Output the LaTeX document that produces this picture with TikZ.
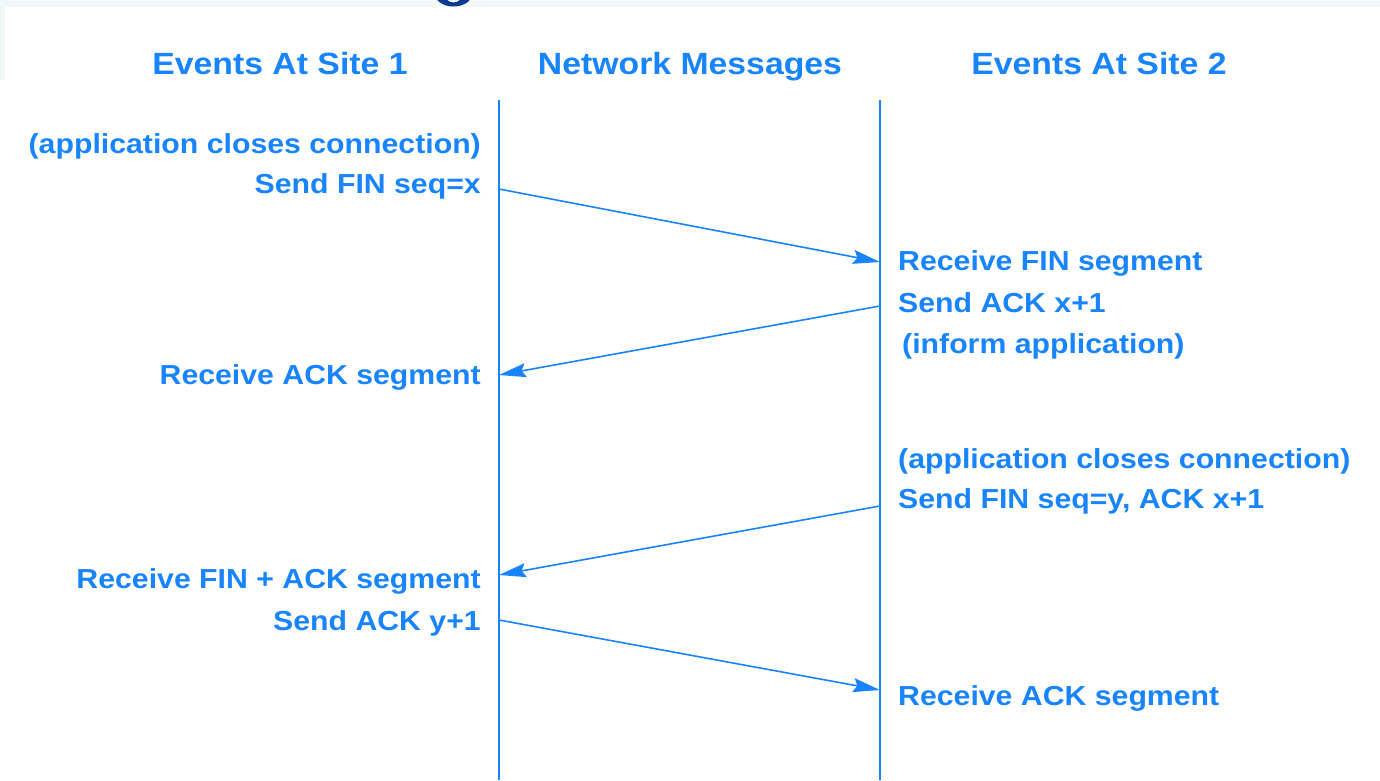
\documentclass[tikz,border=0pt]{standalone}
\usepackage{fontspec}
\usepackage{graphicx}
\setmainfont{Liberation Sans}
\usetikzlibrary{arrows.meta}
\definecolor{tblue}{RGB}{24,132,255}
\definecolor{band}{RGB}{242,247,248}
\definecolor{navy}{RGB}{10,58,145}
\newcommand{\wtxt}[1]{\scalebox{1.1}[1]{#1}}
\tikzset{
  lbl/.style={inner sep=0pt, text=tblue, font=\fontsize{27.5}{33}\selectfont\bfseries},
  hdr/.style={inner sep=0pt, text=tblue, font=\fontsize{30.7}{36}\selectfont\bfseries, anchor=base},
  lifeline/.style={draw=tblue, line width=1.8pt},
  msg/.style={draw=tblue, line width=1.6pt, -{Stealth[length=27pt,width=14pt,inset=4pt]}},
}
\begin{document}
\begin{tikzpicture}[x=1pt,y=-1pt]
\useasboundingbox (0,0) rectangle (1380,780);
% top band and decorations
\fill[band] (0,0) rectangle (1380,7);
\fill[band] (0,7) rectangle (5,80);
\begin{scope}
  \clip (430,0) rectangle (480,7);
  \fill[navy, even odd rule] (453.5,-6) ellipse [x radius=18.5, y radius=12.5]
                             (453.5,-6) ellipse [x radius=9, y radius=8.5];
\end{scope}
% headers
\node[hdr] (h1) at (280,74) {\wtxt{Events At Site 1}};
\node[hdr] (h2) at (690,74) {\wtxt{Network Messages}};
\node[hdr] (h3) at (1099,74) {\wtxt{Events At Site 2}};
% lifelines
\coordinate (l1top) at (499,100);
\coordinate (l1bot) at (499,780);
\coordinate (l2top) at (880,100);
\coordinate (l2bot) at (880,780);
\draw[lifeline] (l1top) -- (l1bot);
\draw[lifeline] (l2top) -- (l2bot);
% site 1 texts
\node[lbl, anchor=base east] (a1) at (481,153) {\wtxt{(application closes connection)}};
\node[lbl, anchor=base east] (a2) at (481,193) {\wtxt{Send FIN seq=x}};
\node[lbl, anchor=base east] (a3) at (481,384) {\wtxt{Receive ACK segment}};
\node[lbl, anchor=base east] (a4) at (481,588) {\wtxt{Receive FIN + ACK segment}};
\node[lbl, anchor=base east] (a5) at (481,630) {\wtxt{Send ACK y+1}};
% site 2 texts
\node[lbl, anchor=base west] (b1) at (898,270) {\wtxt{Receive FIN segment}};
\node[lbl, anchor=base west] (b2) at (898,312) {\wtxt{Send ACK x+1}};
\node[lbl, anchor=base west] (b3) at (902,353) {\wtxt{(inform application)}};
\node[lbl, anchor=base west] (b4) at (898,468) {\wtxt{(application closes connection)}};
\node[lbl, anchor=base west] (b5) at (898,508) {\wtxt{Send FIN seq=y, ACK x+1}};
\node[lbl, anchor=base west] (b6) at (898,705) {\wtxt{Receive ACK segment}};
% message endpoints on lifelines
\coordinate (m1s) at (499,189);
\coordinate (m1e) at (880,262);
\coordinate (m2s) at (880,306);
\coordinate (m2e) at (499,375);
\coordinate (m3s) at (880,506);
\coordinate (m3e) at (499,575);
\coordinate (m4s) at (499,620);
\coordinate (m4e) at (880,690);
\draw[msg] (m1s) -- (m1e);
\draw[msg] (m2s) -- (m2e);
\draw[msg] (m3s) -- (m3e);
\draw[msg] (m4s) -- (m4e);
\end{tikzpicture}
\end{document}
